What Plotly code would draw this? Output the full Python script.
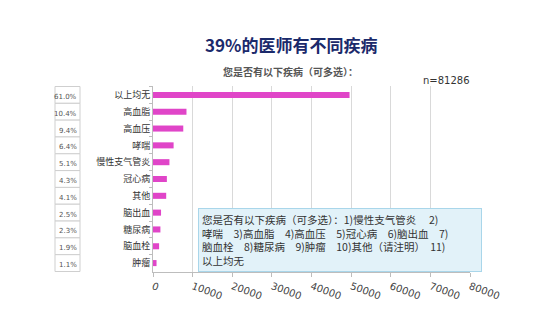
import plotly.graph_objects as go

categories = ["以上均无", "高血脂", "高血压", "哮喘", "慢性支气管炎", "冠心病",
              "其他", "脑出血", "糖尿病", "脑血栓", "肿瘤"]
counts = [49600, 8450, 7640, 5200, 4150, 3500, 3330, 2030, 1870, 1540, 890]
pct_labels = ["61.0%", "10.4%", "9.4%", "6.4%", "5.1%", "4.3%", "4.1%",
              "2.5%", "2.3%", "1.9%", "1.1%"]
x_ticks = [0, 10000, 20000, 30000, 40000, 50000, 60000, 70000, 80000]

title_text = "39%的医师有不同疾病"
subtitle_text = "您是否有以下疾病（可多选）："
n_text = "n=81286"
note_text = ("您是否有以下疾病（可多选）：1)慢性支气管炎　 2)<br>"
             "哮喘　3)高血脂　4)高血压　5)冠心病　6)脑出血　7)<br>"
             "脑血栓　8)糖尿病　9)肿瘤　10)其他（请注明）　11)<br>"
             "以上均无")

W, H = 554, 313
L, R, T, B = 153, 84, 86, 41
pw = W - L - R
ph = H - T - B

def px2paper_x(px):
    return (px - L) / pw

def px2paper_y(py):
    return (H - B - py) / ph

CJK = "Noto Sans CJK SC"

fig = go.Figure()
fig.add_trace(go.Bar(
    y=categories, x=counts, orientation="h",
    marker=dict(color="#E045C8", line=dict(width=0)),
    width=0.36,
))

shapes = []
annotations = []
for i, lab in enumerate(pct_labels):
    shapes.append(dict(type="rect", xref="paper", yref="y",
                       x0=px2paper_x(55), x1=px2paper_x(80),
                       y0=i - 0.5, y1=i + 0.5,
                       line=dict(color="#cfcfcf", width=1),
                       fillcolor="white", layer="below"))
    annotations.append(dict(xref="paper", yref="y", x=px2paper_x(79), y=categories[i],
                            text=lab, showarrow=False, xanchor="right",
                            yshift=-2,
                            font=dict(family="DejaVu Sans", size=7, color="#555")))

annotations.append(dict(xref="paper", yref="paper", x=px2paper_x(291), y=px2paper_y(45),
                        text="<b>" + title_text + "</b>", showarrow=False,
                        xanchor="center", yanchor="middle",
                        font=dict(family=CJK, size=17, color="#1B2A6B")))
annotations.append(dict(xref="paper", yref="paper", x=px2paper_x(290), y=px2paper_y(71),
                        text="<b>" + subtitle_text + "</b>", showarrow=False,
                        xanchor="center", yanchor="middle",
                        font=dict(family=CJK, size=10, color="#555")))
annotations.append(dict(xref="paper", yref="paper", x=px2paper_x(446), y=px2paper_y(80),
                        text=n_text, showarrow=False,
                        xanchor="center", yanchor="middle",
                        font=dict(family="DejaVu Sans", size=10, color="#333")))
annotations.append(dict(xref="paper", yref="paper", x=px2paper_x(198), y=px2paper_y(208),
                        text=note_text, showarrow=False, align="left",
                        xanchor="left", yanchor="top",
                        width=276,
                        bgcolor="#E2F2F9", bordercolor="#A9D6EA", borderwidth=1,
                        borderpad=3,
                        font=dict(family=CJK, size=10.5, color="#333")))

fig.update_layout(
    width=W, height=H,
    margin=dict(l=L, r=R, t=T, b=B),
    plot_bgcolor="white", paper_bgcolor="white",
    showlegend=False,
    shapes=shapes,
    annotations=annotations,
    xaxis=dict(range=[0, 80000], tickvals=x_ticks,
               ticktext=[str(v) for v in x_ticks],
               tickangle=20, showgrid=True, gridcolor="#d9d9d9", gridwidth=1,
               showline=True, linecolor="#bdbdbd", ticks="outside", ticklen=4,
               tickcolor="#bdbdbd", zeroline=False,
               tickfont=dict(family="DejaVu Sans", size=10, color="#444")),
    yaxis=dict(autorange="reversed", showline=True, linecolor="#bdbdbd",
               ticks="outside", tickson="boundaries", ticklen=3, tickcolor="#bdbdbd",
               showgrid=False,
               tickfont=dict(family=CJK, size=9, color="#333")),
)

fig.write_html("out.html")
